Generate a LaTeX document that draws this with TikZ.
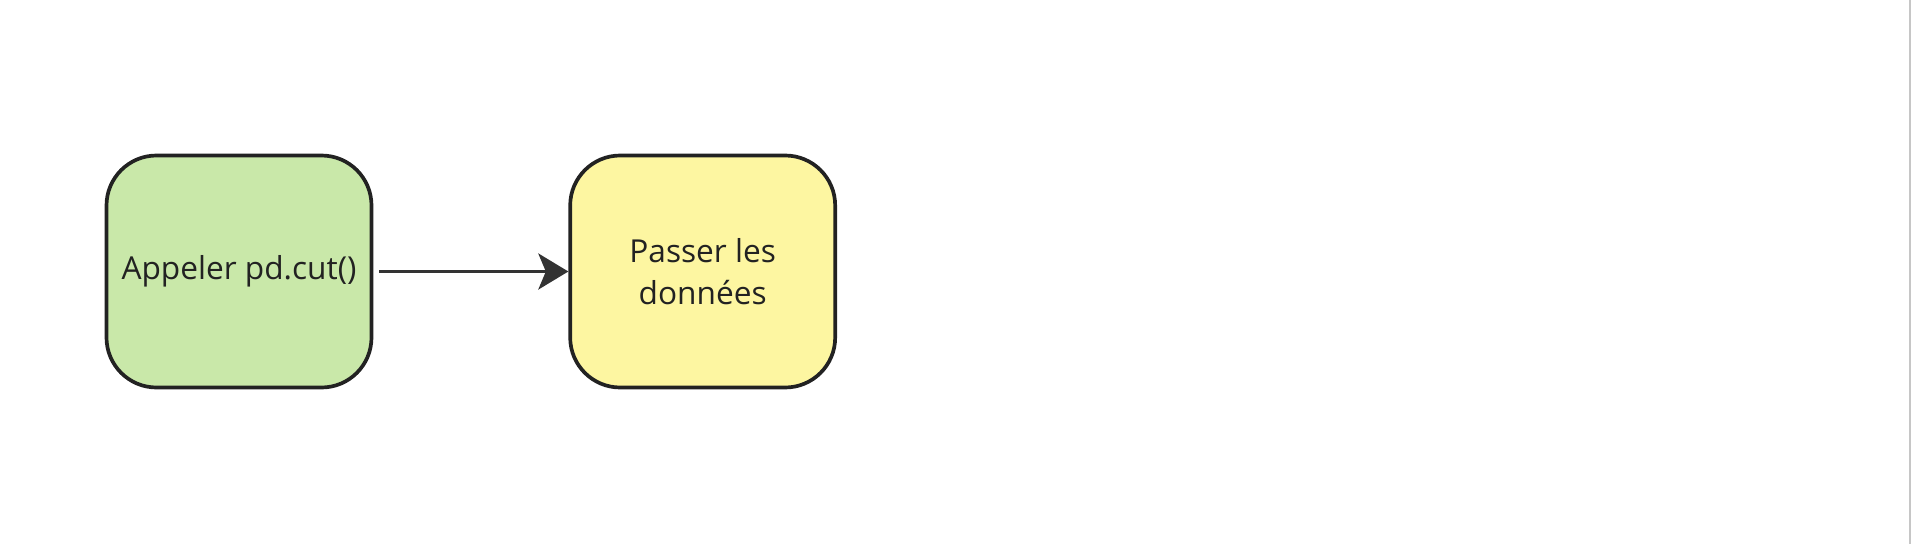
\documentclass[tikz,border=0pt]{standalone}
\usepackage{fontspec}
\setmainfont{Open Sans}
\usetikzlibrary{arrows.meta, positioning}

\definecolor{stepgreen}{HTML}{C9E8A9}
\definecolor{stepyellow}{HTML}{FDF6A1}
\definecolor{stepline}{HTML}{222222}
\definecolor{arrowgray}{HTML}{333333}

\begin{document}
\begin{tikzpicture}[
  % --- styles ------------------------------------------------------------
  stepbox/.style={
    rectangle, draw=stepline, line width=2.1pt, rounded corners=1.0cm,
    minimum width=5.3cm, minimum height=4.64cm,
    font=\fontsize{18}{24}\selectfont, align=center, text=stepline
  },
  flow/.style={-{Stealth[length=0.6cm, width=0.72cm, inset=0.15cm]},
    line width=1.9pt, draw=arrowgray, fill=arrowgray},
  node distance = 3.9cm
]

\useasboundingbox (0,0) rectangle (38.24,-10.88);
\draw[gray!45, line width=1.2pt] (38.2,0) -- (38.2,-10.88);

% --------------------- boxes --------------------------------------------
\node[stepbox, fill=stepgreen] (call) at (4.78,-5.43) {Appeler pd.cut()};
\node[stepbox, fill=stepyellow, right=of call] (pass) {Passer les\\données};

% --------------------- arrow --------------------------------------------
\draw[flow, shorten <=0.12cm] (call) -- (pass);

\end{tikzpicture}
\end{document}
